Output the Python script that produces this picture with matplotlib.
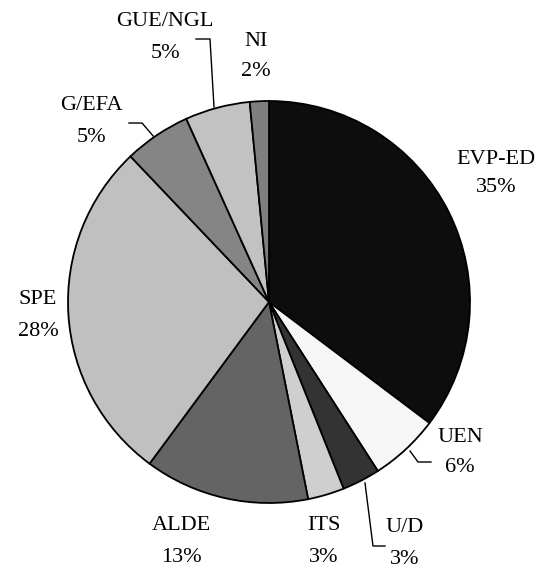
import matplotlib
matplotlib.use("Agg")
import matplotlib.pyplot as plt

labels = ["EVP-ED", "UEN", "U/D", "ITS", "ALDE", "SPE", "G/EFA", "GUE/NGL", "NI"]
seats = [277, 44, 24, 23, 104, 218, 42, 41, 12]
pct_labels = ["35%", "6%", "3%", "3%", "13%", "28%", "5%", "5%", "2%"]
colors = ["#0d0d0d", "#f6f6f6", "#333333", "#cfcfcf", "#646464", "#c0c0c0", "#858585", "#c2c2c2", "#7f7f7f"]

W, H = 539, 571
fig = plt.figure(figsize=(W / 100, H / 100), dpi=100)
ax = fig.add_axes([0, 0, 1, 1])

cx, cy, r = 269, H - 302, 201
ax.pie(seats, colors=colors, startangle=90, counterclock=False,
       center=(cx, cy), radius=r,
       wedgeprops=dict(edgecolor="black", linewidth=1.3))
ax.set_xlim(0, W)
ax.set_ylim(0, H)
ax.set_aspect("equal")
ax.axis("off")

# label positions in pixel coords (x, y of name, y of pct)
pos = {
    "EVP-ED": (496, 160, 188),
    "UEN": (460, 437, 467),
    "U/D": (405, 528, 560),
    "ITS": (324, 525, 557),
    "ALDE": (181, 525, 557),
    "SPE": (38, 300, 332),
    "G/EFA": (91, 106, 138),
    "GUE/NGL": (165, 22, 54),
    "NI": (256, 41, 72),
}
fs = 16
for lab, p in zip(labels, pct_labels):
    x, y1, y2 = pos[lab]
    ax.text(x, H - y1, lab, ha="center", va="center", fontsize=fs, family="Liberation Serif")
    ax.text(x, H - y2, p, ha="center", va="center", fontsize=fs, family="Liberation Serif")

leaders = [
    [(214, 107), (210, 39), (196, 39)],
    [(154, 137), (142, 123), (129, 123)],
    [(410, 451), (418, 462), (431, 462)],
    [(365, 483), (373, 546), (385, 546)],
]
for pts in leaders:
    xs = [p[0] for p in pts]
    ys = [H - p[1] for p in pts]
    ax.plot(xs, ys, color="black", linewidth=1.0)

fig.savefig("out.png", dpi=100)
